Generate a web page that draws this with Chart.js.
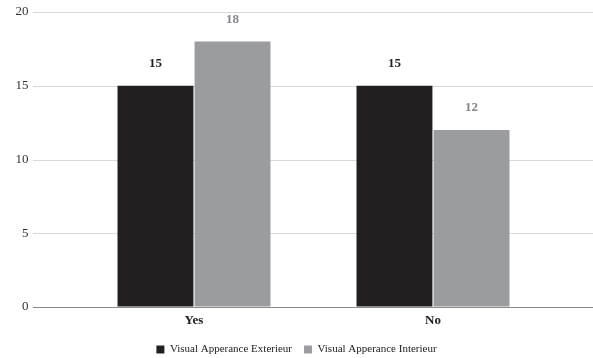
<!DOCTYPE html>
<html>
<head>
<meta charset="utf-8">
<script src="https://cdn.jsdelivr.net/npm/chart.js@4"></script>
<style>
  html, body { margin: 0; padding: 0; background: #fff; }
  #wrap { width: 593px; height: 358px; }
</style>
</head>
<body>
<div id="wrap"><canvas id="chart"></canvas></div>
<script>
const categories = ['Yes', 'No'];
const exteriorValues = [15, 15];
const interiorValues = [18, 12];
const seriesNames = ['Visual Apperance Exterieur', 'Visual Apperance Interieur'];
const yTicks = [0, 5, 10, 15, 20];

const serif = '"Liberation Serif", "Times New Roman", serif';

// grid lines reach past the plot area, like the original
const fullGrid = {
    id: 'fullGrid',
    beforeDatasetsDraw(chart) {
        const { ctx, scales } = chart;
        const y = scales.y;
        ctx.save();
        ctx.lineWidth = 1;
        yTicks.forEach((v) => {
            const py = Math.round(y.getPixelForValue(v)) + 0.5;
            ctx.strokeStyle = v === 0 ? '#8a8a8a' : '#d9d9d9';
            ctx.beginPath();
            ctx.moveTo(33, py);
            ctx.lineTo(chart.width, py);
            ctx.stroke();
        });
        ctx.restore();
    }
};

// value labels above each bar
const barLabels = {
    id: 'barLabels',
    afterDatasetsDraw(chart) {
        const { ctx } = chart;
        ctx.save();
        ctx.font = 'bold 13px ' + serif;
        ctx.textAlign = 'center';
        ctx.textBaseline = 'middle';
        chart.data.datasets.forEach((ds, i) => {
            const meta = chart.getDatasetMeta(i);
            ctx.fillStyle = i === 0 ? '#231f20' : '#85868a';
            meta.data.forEach((bar, j) => {
                ctx.fillText(ds.data[j], bar.x, bar.y - 22);
            });
        });
        ctx.restore();
    }
};

new Chart(document.getElementById('chart'), {
    type: 'bar',
    data: {
        labels: categories,
        datasets: [
            {
                label: seriesNames[0],
                data: exteriorValues,
                backgroundColor: '#231f20',
                categoryPercentage: 0.645,
                barPercentage: 0.985,
            },
            {
                label: seriesNames[1],
                data: interiorValues,
                backgroundColor: '#9b9c9f',
                categoryPercentage: 0.645,
                barPercentage: 0.985,
            },
        ],
    },
    options: {
        responsive: true,
        maintainAspectRatio: false,
        animation: false,
        layout: { padding: { top: 12, right: 0, left: 0, bottom: -7 } },
        scales: {
            y: {
                min: 0,
                max: 20,
                afterBuildTicks: (scale) => {
                    scale.ticks = yTicks.map((v) => ({ value: v }));
                },
                afterFit: (scale) => { scale.width = 74.5; },
                grid: { color: 'transparent', drawTicks: true, tickLength: 43 },
                border: { display: false },
                ticks: {
                    padding: 3,
                    color: '#333',
                    font: { family: serif, size: 13 },
                },
            },
            // empty axis that only keeps the gap on the right
            yRight: {
                position: 'right',
                afterFit: (scale) => { scale.width = 40.5; },
                grid: { display: false },
                border: { display: false },
                ticks: { display: false },
            },
            x: {
                afterFit: (scale) => { scale.height = 25; },
                grid: { display: false, drawTicks: false },
                border: { display: false },
                ticks: {
                    padding: 6,
                    color: '#222',
                    font: { family: serif, size: 13, weight: 'bold' },
                },
            },
        },
        plugins: {
            legend: {
                position: 'bottom',
                labels: {
                    boxWidth: 8,
                    boxHeight: 8,
                    padding: 12,
                    color: '#222',
                    font: { family: serif, size: 11 },
                },
            },
            tooltip: { enabled: false },
        },
    },
    plugins: [fullGrid, barLabels],
});
</script>
</body>
</html>
